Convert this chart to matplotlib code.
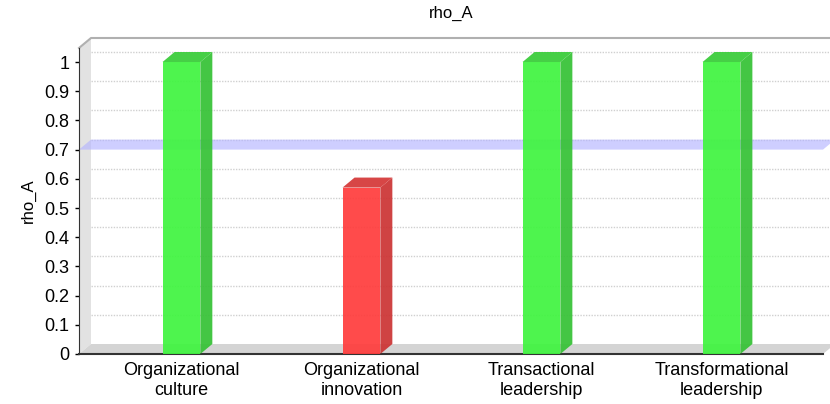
import matplotlib
matplotlib.use('Agg')
import matplotlib.pyplot as plt
from matplotlib.patches import Polygon

plt.rcParams['font.family'] = ['Liberation Sans', 'DejaVu Sans']

categories = ['Organizational\nculture', 'Organizational\ninnovation',
              'Transactional\nleadership', 'Transformational\nleadership']
values = [1.0, 0.57, 1.0, 1.0]
threshold = 0.7
yticks = [0, 0.1, 0.2, 0.3, 0.4, 0.5, 0.6, 0.7, 0.8, 0.9, 1]

fig = plt.figure(figsize=(8.3, 4.04), dpi=100)
ax = fig.add_axes([79/830, 50/404, (823-79)/830, (354-48)/404])
xmin, xmax = -0.569, 3.564
ymin, ymax = 0, 1.048
ax.set_xlim(xmin, xmax)
ax.set_ylim(ymin, ymax)

# depth offset of the fake 3d look (data units)
dx = 12/180
dy = 10/292
w = 0.21

# walls
ax.add_patch(Polygon([(xmin, 0), (xmin+dx, dy), (xmin+dx, ymax+dy), (xmin, ymax)],
                     closed=True, fc='#e2e2e2', ec='none', clip_on=False, zorder=0))
ax.add_patch(Polygon([(xmin, 0), (xmax, 0), (xmax+dx, dy), (xmin+dx, dy)],
                     closed=True, fc='#d4d4d4', ec='none', clip_on=False, zorder=0))
for t in yticks[1:]:
    ax.plot([xmin+dx, xmax+dx], [t+dy, t+dy], ls=(0, (1, 1)), color='#d0d0d0',
            lw=1, clip_on=False, zorder=1)
ax.plot([xmin, xmin+dx, xmax+dx], [ymax, ymax+dy, ymax+dy], color='#b0b0b0',
        lw=1.5, clip_on=False, zorder=1)

# threshold band
ax.add_patch(Polygon([(xmin, threshold), (xmax, threshold),
                      (xmax+dx, threshold+dy), (xmin+dx, threshold+dy)],
                     closed=True, fc='#b4b4ff', alpha=0.65, ec='none',
                     clip_on=False, zorder=2))

# bars
x = list(range(len(categories)))
front = ['#40f440' if v >= threshold else '#ff3d3d' for v in values]
side = ['#36c236' if v >= threshold else '#cc3434' for v in values]
top = ['#38cc38' if v >= threshold else '#d43838' for v in values]
ax.bar(x, values, width=w, color=front, alpha=0.93, zorder=3)
for xi, v, sc, tc in zip(x, values, side, top):
    r = xi + w/2
    l = xi - w/2
    ax.add_patch(Polygon([(r, 0), (r+dx, dy), (r+dx, v+dy), (r, v)],
                         closed=True, fc=sc, ec='none', alpha=0.93, zorder=3))
    ax.add_patch(Polygon([(l, v), (r, v), (r+dx, v+dy), (l+dx, v+dy)],
                         closed=True, fc=tc, ec='none', alpha=0.93, zorder=3))

ax.set_xticks(x)
ax.set_xticklabels(categories, fontsize=13)
ax.tick_params(axis='x', length=0, pad=6)
ax.set_yticks(yticks)
ax.set_yticklabels(['0', '0.1', '0.2', '0.3', '0.4', '0.5', '0.6', '0.7', '0.8', '0.9', '1'],
                   fontsize=13)
ax.tick_params(axis='y', length=3, width=1, pad=4)
ax.spines['top'].set_visible(False)
ax.spines['right'].set_visible(False)
ax.spines['left'].set_color('#333333')
ax.spines['bottom'].set_color('#333333')
ax.spines['bottom'].set_linewidth(1.5)
ax.set_ylabel('rho_A', fontsize=12, labelpad=6)
fig.text((79+823)/2/830, 1-13/404, 'rho_A', ha='center', va='center', fontsize=12)

fig.savefig('out.png', dpi=100, facecolor='white')
